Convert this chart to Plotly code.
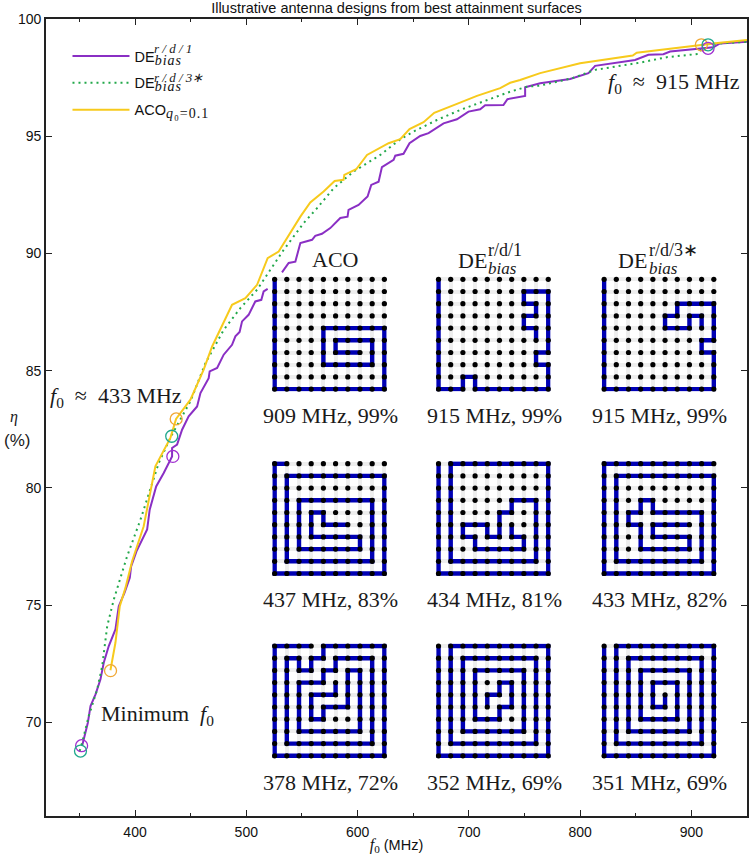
import plotly.graph_objects as go

# ---------- curves (f0 in MHz, efficiency in %) ----------
de1_f = [352.5,357.6,360,364.5,368.9,371.9,376.4,382.4,385.4,390.5,395.3,396.5,401.3,410.9,413.2,419,425.8,433.3,433.3,437.8,442.3,448.2,455.8,458.8,466.2,467.1,473.8,479.7,487.2,490.2,494,496.2,502.1,508.1,513.5,515.6,519.2,None,532.1,538.1,544.1,548.6,559.1,562,568,575.5,584.5,591,591.9,600.9,609,612.3,618.9,621.9,632.4,633.9,641.3,646.7,656.3,663.8,677.3,689.3,699.7,710.2,714.7,731.1,734.7,750.6,750.6,761.1,764.1,791,807.5,813.5,833,849.4,861.4,874.8,880.9,907.8,919.7,925.7,950]
de1_eta = [69,69.98,70.69,71.19,71.82,72.54,73.25,73.96,74.95,75.52,76.16,76.65,77.29,78.22,79.07,80.06,80.63,81.34,81.7,81.84,82.48,83.05,83.47,84.04,84.68,84.97,85.11,85.68,86.1,86.46,86.65,87.1,87.38,87.95,88.02,88.38,88.49,None,89.19,89.59,89.65,90.44,90.58,90.75,90.84,91.08,91.51,91.57,91.86,92.07,92.43,92.92,93.06,93.68,93.99,94.17,94.25,94.7,95.01,95.13,95.55,95.72,96.05,96.15,96.32,96.33,96.58,96.72,97.09,97.22,97.26,97.44,97.69,98,98.15,98.25,98.47,98.5,98.61,98.75,98.79,98.96,99.03]

de3_f = [350.3,352.5,358.4,366,370.5,375,380.9,392.9,404.9,413.8,421.3,432.4,449.8,463.3,479.7,494.7,509.7,521.6,533.6,551.5,563.6,578.5,596.4,620.4,638.4,650.3,671.3,692.2,713.2,737.2,752.2,764.1,792.6,813.5,853.9,877.9,906.3,910.7,916.7,950]
de3_eta = [68.77,69.13,70.26,71.4,72.39,74.1,75.23,77.08,78.64,79.92,81.06,82.2,83.69,85.32,86.74,87.67,88.45,89.3,90.15,91.29,91.93,92.78,93.49,94.2,94.87,95.2,95.69,96.12,96.47,96.9,97.11,97.16,97.47,97.83,98.14,98.37,98.51,98.89,98.93,99.03]

aco_f = [377.9,382.4,386.3,391.4,397.4,407.8,418.3,431.8,436.9,449.8,461.7,469.3,487.2,499.2,509.7,519.2,529.1,548.6,557.5,569.5,579.4,587.4,588.1,598.8,608.5,627.9,638.4,646.7,659.3,668.9,689.3,707.3,728.2,737.2,746.1,764.1,800,837.5,847.3,850.9,877.9,904.8,925.7,950]
aco_eta = [72.22,73.39,74.95,75.73,76.87,78.36,80.92,82.13,82.94,83.76,85.04,86.03,87.81,88.09,88.66,89.8,90.08,91.57,92.17,92.64,93.09,93.14,93.35,93.59,94.2,94.7,94.87,95.3,95.6,96,96.38,96.72,97.05,97.28,97.4,97.69,98.11,98.39,98.44,98.56,98.72,98.89,98.99,99.1]

# ---------- highlighted designs ----------
aco_pick_f, aco_pick_eta = [378,437,909], [72.2,82.94,98.9]
de1_pick_f, de1_pick_eta = [352,434,915], [69.0,81.34,98.75]
de3_pick_f, de3_pick_eta = [351,433,915], [68.77,82.2,98.9]

# ---------- antenna wire paths (col,row on a 10x10 grid) ----------
wire_909 = [(0,0),(0,9),(9,9),(9,4),(4,4),(4,7),(8,7),(8,5),(5,5),(5,6),(7,6)]
wire_915a = [(0,0),(0,9),(2,9),(2,8),(3,8),(3,9),(9,9),(9,7),(8,7),(8,6),(9,6),(9,1),(7,1),(7,2),(8,2),(8,3),(7,3),(7,4),(8,4),(8,5)]
wire_915b = [(0,0),(0,9),(9,9),(9,6),(8,6),(8,5),(9,5),(9,2),(6,2),(6,3),(5,3),(5,4),(7,4),(7,3),(8,3),(8,4)]
wire_437 = [(1,0),(0,0),(0,9),(9,9),(9,1),(1,1),(1,8),(8,8),(8,3),(2,3),(2,7),(7,7),(7,6),(3,6),(3,4),(4,4),(4,5),(6,5)]
wire_434 = [(0,0),(0,9),(9,9),(9,0),(1,0),(1,8),(8,8),(8,3),(6,3),(6,4),(5,4),(5,6),(4,6),(4,5),(2,5),(2,6),(3,6),(3,7),(7,7),(7,6),(6,6),(6,5)]
wire_433 = [(9,0),(0,0),(0,9),(9,9),(9,1),(1,1),(1,8),(8,8),(8,4),(4,4),(4,3),(3,3),(3,4),(2,4),(2,5),(3,5),(3,7),(7,7),(7,6),(4,6),(4,5),(7,5)]
wire_378 = [(3,0),(0,0),(0,9),(9,9),(9,0),(4,0),(4,1),(3,1),(3,2),(2,2),(2,1),(1,1),(1,8),(8,8),(8,1),(5,1),(5,2),(4,2),(4,3),(2,3),(2,7),(7,7),(7,2),(6,2),(6,5),(4,5),(4,6),(3,6),(3,4),(5,4),(5,3)]
wire_352 = [(0,0),(0,9),(9,9),(9,0),(1,0),(1,8),(8,8),(8,1),(2,1),(2,7),(7,7),(7,2),(3,2),(3,6),(5,6),(5,5),(6,5),(6,3),(5,3),(5,4),(4,4),(4,5)]
wire_351 = [(0,0),(0,9),(9,9),(9,0),(1,0),(1,8),(8,8),(8,1),(2,1),(2,7),(7,7),(7,2),(3,2),(3,6),(6,6),(6,3),(4,3),(4,5),(5,5),(5,4)]

wires = [[wire_909,wire_915a,wire_915b],[wire_437,wire_434,wire_433],[wire_378,wire_352,wire_351]]
captions = [["909 MHz, 99%","915 MHz, 99%","915 MHz, 99%"],
            ["437 MHz, 83%","434 MHz, 81%","433 MHz, 82%"],
            ["378 MHz, 72%","352 MHz, 69%","351 MHz, 69%"]]
x_ticks = [400,500,600,700,800,900]
y_ticks = [70,75,80,85,90,95,100]

# ---------- layout constants ----------
W, H = 750, 855
L, R, T, B = 45.5, 747.0, 19.0, 816.0
PW, PH = R-L, B-T
def px(x): return (x-L)/PW
def py(y): return (B-y)/PH
SERIF = "Liberation Serif"
SANS = "Liberation Sans"
PURPLE, GREEN, YELLOW = "#8a2fc4", "#22a84a", "#f7ca1c"
M_PURPLE, M_TEAL, M_ORANGE = "#a030d0", "#1fa88c", "#f0a733"
BLUE = "#0000b4"
SUB = "<sub><span style=\"font-family:'Liberation Serif';font-size:14px;letter-spacing:1px\">%s</span></sub>"

fig = go.Figure()
fig.add_trace(go.Scatter(x=de1_f, y=de1_eta, mode="lines", name="DE"+SUB % "<i>bias</i>",
                         line=dict(color=PURPLE, width=2), connectgaps=False, legendgroup="a"))
fig.add_trace(go.Scatter(x=de3_f, y=de3_eta, mode="lines", name="DE"+SUB % "<i>bias</i>",
                         line=dict(color=GREEN, width=2, dash="2px,4px"), legendgroup="b"))
fig.add_trace(go.Scatter(x=aco_f, y=aco_eta, mode="lines", name="ACO"+SUB % "<i>q</i>₀=0.1",
                         line=dict(color=YELLOW, width=2), legendgroup="c"))
for fx, ey, c in [(aco_pick_f,aco_pick_eta,M_ORANGE),(de1_pick_f,de1_pick_eta,M_PURPLE),(de3_pick_f,de3_pick_eta,M_TEAL)]:
    fig.add_trace(go.Scatter(x=fx, y=ey, mode="markers", showlegend=False,
                             marker=dict(symbol="circle-open", size=12, color=c, line=dict(width=1.3, color=c))))

anns = []
def note(text, x, y, size=22, family=SERIF, anchor="center", color="#1a1a1a"):
    anns.append(dict(text=text, x=px(x), y=py(y), xref="paper", yref="paper", showarrow=False,
                     xanchor=anchor, yanchor="middle", font=dict(family=family, size=size, color=color)))

col_x0 = [274.3, 438.3, 604.0]
row_y0 = [279.3, 463.7, 646.0]
SPAN = 109.8
PAD = 0.2
cell = SPAN/9
grid_c = [c for r in range(10) for c in range(10)]
grid_r = [r for r in range(10) for c in range(10)]
axis_layout = {}
n = 2
for i, row in enumerate(wires):
    for j, wire in enumerate(row):
        xa, ya = f"x{n}", f"y{n}"
        x0, y0 = col_x0[j], row_y0[i]
        common = dict(showline=False, zeroline=False, showticklabels=False, ticks="", automargin=False,
                      tickvals=list(range(10)), showgrid=True, gridcolor="#eeeeee", gridwidth=4)
        axis_layout[f"xaxis{n}"] = dict(domain=[px(x0-PAD*cell), px(x0+SPAN+PAD*cell)], range=[-PAD, 9+PAD],
                                        anchor=ya, **common)
        axis_layout[f"yaxis{n}"] = dict(domain=[py(y0+SPAN+PAD*cell), py(y0-PAD*cell)], range=[9+PAD, -PAD],
                                        anchor=xa, **common)
        fig.add_trace(go.Scatter(x=[p[0] for p in wire], y=[p[1] for p in wire], xaxis=xa, yaxis=ya,
                                 mode="lines", showlegend=False, line=dict(color=BLUE, width=4.4), cliponaxis=False))
        fig.add_trace(go.Scatter(x=grid_c, y=grid_r, xaxis=xa, yaxis=ya, mode="markers", showlegend=False,
                                 marker=dict(color="black", size=5.2), cliponaxis=False))
        n += 1

# captions
cap_x = [330.5, 494, 659]
cap_y = [415.7, 599, 782.7]
for i, row in enumerate(captions):
    for j, t in enumerate(row):
        note(t, cap_x[j], cap_y[i])

# inset column titles
note("ACO", 334.5, 259)
note("DE", 455.5, 260, anchor="left")
note("r/d/1", 485.5, 250, size=18, anchor="left")
note("<i>bias</i>", 485.5, 268, size=17, anchor="left")
note("DE", 615.5, 260, anchor="left")
note("r/d/3∗", 646.5, 250, size=18, anchor="left")
note("<i>bias</i>", 646.5, 268, size=17, anchor="left")

# curve notes
note("<i>f</i><sub>0</sub>\u2002≈\u2002915 MHz", 606, 83, anchor="left")
note("<i>f</i><sub>0</sub>\u2002≈\u2002433 MHz", 48, 397, anchor="left")
note("Minimum\u2002<i>f</i><sub>0</sub>", 98.5, 715, anchor="left")

# legend superscripts
note("<i>r / d / 1</i>", 152, 49, size=13, anchor="left")
note("<i>r / d / 3∗</i>", 152, 77, size=13, anchor="left")

# y label
note("<i>η</i>", 13, 417, size=16)
note("(%)", 16, 440, size=17, family=SANS)

axis_style = dict(showline=True, linecolor="#222", linewidth=1.6, mirror="ticks", ticks="inside",
                  ticklen=6, tickwidth=1, tickcolor="#222", showgrid=False, zeroline=False, automargin=False,
                  tickfont=dict(family=SANS, size=14, color="#111"))

fig.update_layout(
    template="none",
    width=W, height=H, margin=dict(l=L, r=W-R, t=T, b=H-B, pad=0),
    paper_bgcolor="white", plot_bgcolor="white", font=dict(family=SANS, color="#111"),
    title=dict(text="Illustrative antenna designs from best attainment surfaces", x=396.5/W,
               xanchor="center", y=1-8/H, yanchor="middle", font=dict(family=SANS, size=14.5, color="#111")),
    xaxis=dict(range=[320,950], tickmode="linear", tick0=x_ticks[0], dtick=x_ticks[1]-x_ticks[0], ticklabelstandoff=2,
               minor=dict(dtick=(x_ticks[1]-x_ticks[0])/2, tick0=x_ticks[0], ticks="inside", ticklen=3, tickwidth=1, tickcolor="#222"),
               title=dict(text="<span style=\"font-family:'Liberation Serif';font-size:16px\"><i>f</i><sub>0</sub></span> (MHz)",
                          font=dict(family=SANS, size=14.5, color="#111")), **axis_style),
    yaxis=dict(range=[66,100], tickvals=y_ticks, **axis_style),
    legend=dict(x=px(67), y=py(40), xanchor="left", yanchor="top", bgcolor="rgba(0,0,0,0)",
                font=dict(family=SANS, size=14.5, color="#111"), tracegroupgap=5, itemwidth=57),
    annotations=anns, showlegend=True, **axis_layout)

fig.write_html("out.html", config={"displayModeBar": False},
               post_script="document.body.style.margin='0';document.body.style.overflow='hidden';")
